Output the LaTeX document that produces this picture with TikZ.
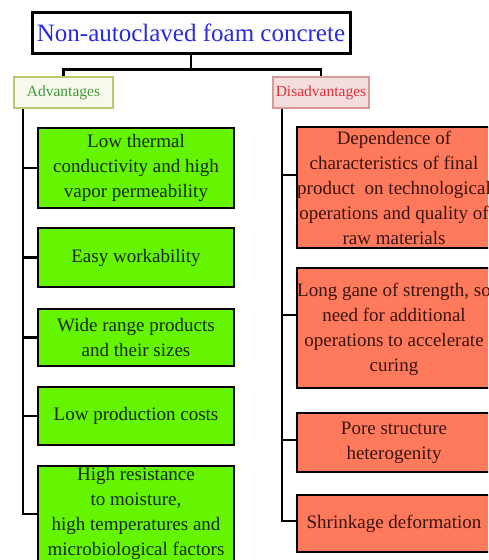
\documentclass[tikz,border=0pt]{standalone}
\usepackage{fontspec}
\setmainfont{Liberation Serif}
\definecolor{gbox}{HTML}{66F500}
\definecolor{rbox}{HTML}{FF7A5C}
\definecolor{advfill}{HTML}{F6F9EC}
\definecolor{advline}{HTML}{B5CB6E}
\definecolor{advtext}{HTML}{3F9A3A}
\definecolor{disfill}{HTML}{F3DEDD}
\definecolor{disline}{HTML}{D89A98}
\definecolor{distext}{HTML}{E0303A}
\definecolor{titletext}{HTML}{2A2AE0}
\definecolor{gtext}{HTML}{122A10}
\definecolor{rtext}{HTML}{3A1410}
\tikzset{
  box/.style={draw=black, line width=2.4pt, inner sep=0pt},
  greenbox/.style={box, fill=gbox, minimum width=196pt},
  redbox/.style={box, fill=rbox, minimum width=194pt},
  boxtext/.style={align=center, inner sep=0pt, font=\fontsize{19}{25}\selectfont},
  catbox/.style={line width=1.6pt, inner sep=0pt, minimum width=99pt, minimum height=31pt, font=\fontsize{15.5}{18}\selectfont},
  conn/.style={line width=2.4pt, black}
}
\begin{document}
\begin{tikzpicture}[x=1pt,y=-1pt]
\useasboundingbox (0,0) rectangle (488,560);
\clip (0,0) rectangle (488,560);
\fill[white] (0,0) rectangle (488,560);

\node[box, line width=3pt, fill=white, minimum width=318pt, minimum height=41pt,
      font=\fontsize{25}{28}\selectfont, text=titletext] (title) at (191,32.5) {Non-autoclaved foam concrete};

\node[catbox, draw=advline, fill=advfill, text=advtext] (adv) at (63.5,92.5) {Advantages};
\node[catbox, draw=disline, fill=disfill, text=distext, minimum width=96pt] (dis) at (321,92.5) {Disadvantages};

% green boxes
\node[greenbox, minimum height=80pt] (a1) at (136,168) {};
\node[boxtext, text=gtext] (a1t) at (a1) {Low thermal\\conductivity and high\\vapor permeability};
\node[greenbox, minimum height=59pt] (a2) at (136,257.5) {};
\node[boxtext, text=gtext] (a2t) at (a2) {Easy workability};
\node[greenbox, minimum height=57pt] (a3) at (136,337.5) {};
\node[boxtext, text=gtext] (a3t) at (a3) {Wide range products\\and their sizes};
\node[greenbox, minimum height=58pt] (a4) at (136,416) {};
\node[boxtext, text=gtext] (a4t) at (a4) {Low production costs};
\node[greenbox, minimum height=96pt] (a5) at (136,514) {};
\node[boxtext, text=gtext] (a5t) at (136,513) {High resistance\\to moisture,\\high temperatures and\\microbiological factors};

% red boxes
\node[redbox, minimum height=121pt] (d1) at (394,187.5) {};
\node[boxtext, text=rtext] (d1t) at (d1) {Dependence of\\characteristics of final\\product\ \ on technological\\operations and quality of\\raw materials};
\node[redbox, minimum height=120pt] (d2) at (394,328) {};
\node[boxtext, text=rtext] (d2t) at (394,329) {Long gane of strength, so\\need for additional\\operations to accelerate\\curing};
\node[redbox, minimum height=59pt] (d3) at (394,442.5) {};
\node[boxtext, text=rtext] (d3t) at (d3) {Pore structure\\heterogenity};
\node[redbox, minimum height=57pt] (d4) at (394,523.5) {};
\node[boxtext, text=rtext] (d4t) at (d4) {Shrinkage deformation};

% connectors
\draw[conn] (title.south) -- ++(0,15) coordinate (j);
\draw[conn] (adv.north) |- (j) -| (dis.north);

\coordinate (lt) at ([xshift=10pt]adv.south west);
\draw[conn] (lt) |- (a5.west);
\foreach \n in {a1,a2,a3,a4} \draw[conn] (\n.west -| lt) -- (\n.west);

\coordinate (rt) at ([xshift=10pt]dis.south west);
\draw[conn] (rt) |- ([yshift=2.5pt]d4.west);
\draw[conn] ([yshift=12.5pt]d1.west -| rt) -- ([yshift=12.5pt]d1.west);
\draw[conn] ([yshift=13pt]d2.west -| rt) -- ([yshift=13pt]d2.west);
\draw[conn] ([yshift=2.5pt]d3.west -| rt) -- ([yshift=2.5pt]d3.west);
\end{tikzpicture}
\end{document}
